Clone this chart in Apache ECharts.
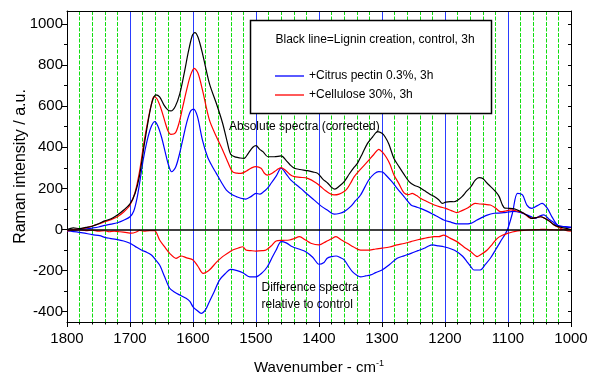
<!DOCTYPE html>
<html>
<head>
<meta charset="utf-8">
<script src="https://cdn.jsdelivr.net/npm/echarts@6/dist/echarts.min.js"></script>
<style>
html,body{margin:0;padding:0;background:#fff;}
#c{width:589px;height:374px;}
</style>
</head>
<body>
<div id="c"></div>
<script>
// Wavenumber (cm-1) / intensity pairs
const controlAbs = [[1800,0],[1790,8],[1780,4],[1770,10],[1760,16],[1750,28],[1740,42],[1730,52],[1720,70],[1710,95],[1700,125],[1692,175],[1685,260],[1678,400],[1671,530],[1665,620],[1659,655],[1653,645],[1646,605],[1640,582],[1635,577],[1628,600],[1621,660],[1614,760],[1607,870],[1601,945],[1597,958],[1592,935],[1585,857],[1574,711],[1563,614],[1553,517],[1546,430],[1540,365],[1532,352],[1525,348],[1519,346],[1512,372],[1505,400],[1500,408],[1494,390],[1489,379],[1481,354],[1471,354],[1460,358],[1452,335],[1446,315],[1439,298],[1430,292],[1418,286],[1410,280],[1402,273],[1394,245],[1386,225],[1380,205],[1375,196],[1368,210],[1360,233],[1352,270],[1345,300],[1339,322],[1331,370],[1323,419],[1315,450],[1307,476],[1300,468],[1295,450],[1289,415],[1281,345],[1273,306],[1265,268],[1257,233],[1249,215],[1241,206],[1232,188],[1224,172],[1217,160],[1210,145],[1204,127],[1199,133],[1192,136],[1186,135],[1180,142],[1173,160],[1166,185],[1159,208],[1152,240],[1146,252],[1140,248],[1133,225],[1128,210],[1120,185],[1114,160],[1109,120],[1105,104],[1098,103],[1090,100],[1083,92],[1075,79],[1068,65],[1062,54],[1055,58],[1048,62],[1042,55],[1035,42],[1028,25],[1020,14],[1012,8],[1006,5],[1000,-2]];
const pectinAbs = [[1800,-3],[1790,-2],[1780,0],[1770,3],[1760,7],[1750,12],[1740,20],[1730,26],[1720,33],[1710,45],[1700,62],[1694,90],[1689,150],[1684,240],[1679,340],[1673,430],[1667,495],[1661,525],[1656,505],[1650,450],[1644,375],[1639,315],[1634,281],[1628,300],[1622,360],[1616,440],[1610,520],[1604,575],[1599,586],[1593,550],[1585,435],[1577,354],[1570,310],[1563,273],[1555,230],[1547,192],[1537,168],[1531,160],[1524,152],[1516,148],[1508,160],[1500,176],[1494,172],[1489,181],[1482,200],[1476,225],[1468,260],[1460,298],[1452,270],[1445,241],[1437,220],[1429,200],[1418,170],[1408,144],[1397,115],[1387,95],[1376,75],[1368,78],[1360,87],[1350,111],[1342,140],[1334,168],[1321,241],[1312,272],[1305,282],[1299,280],[1294,265],[1285,235],[1276,200],[1265,160],[1254,119],[1246,110],[1239,103],[1228,88],[1217,71],[1210,60],[1202,46],[1190,35],[1181,27],[1170,27],[1159,30],[1150,45],[1144,54],[1133,70],[1122,79],[1115,80],[1107,82],[1100,85],[1092,88],[1086,87],[1078,80],[1070,71],[1062,60],[1057,54],[1050,65],[1043,71],[1035,50],[1028,35],[1022,22],[1015,15],[1008,12],[1000,10]];
const celluloseAbs = [[1800,-5],[1790,0],[1780,3],[1770,8],[1760,17],[1750,27],[1740,38],[1730,48],[1720,62],[1710,85],[1700,119],[1692,180],[1685,280],[1678,420],[1671,540],[1666,610],[1662,646],[1657,635],[1651,590],[1645,530],[1640,482],[1635,463],[1628,470],[1622,520],[1616,600],[1610,680],[1604,750],[1598,784],[1592,760],[1585,679],[1574,533],[1563,452],[1553,387],[1545,330],[1537,280],[1530,274],[1524,273],[1515,285],[1507,300],[1500,306],[1492,298],[1487,275],[1482,265],[1475,272],[1467,290],[1460,301],[1452,285],[1445,265],[1439,257],[1430,254],[1418,249],[1405,228],[1397,208],[1390,190],[1383,175],[1376,168],[1368,172],[1360,185],[1355,200],[1350,225],[1344,257],[1335,290],[1323,330],[1313,365],[1305,390],[1299,375],[1293,350],[1287,315],[1281,265],[1273,222],[1265,178],[1258,170],[1252,176],[1245,165],[1239,152],[1228,135],[1217,119],[1208,110],[1199,103],[1190,92],[1181,82],[1173,92],[1165,103],[1158,118],[1152,127],[1144,124],[1136,122],[1128,119],[1120,105],[1112,87],[1104,90],[1096,95],[1086,90],[1075,79],[1064,54],[1056,58],[1048,62],[1040,52],[1033,38],[1025,18],[1017,6],[1008,-4],[1000,-8]];
const pectinDiff = [[1800,-7],[1790,-10],[1775,-16],[1760,-25],[1748,-30],[1740,-38],[1732,-43],[1722,-48],[1710,-56],[1701,-66],[1692,-82],[1682,-100],[1674,-110],[1666,-124],[1660,-145],[1653,-173],[1645,-230],[1637,-286],[1629,-305],[1621,-319],[1611,-335],[1605,-350],[1600,-376],[1593,-395],[1587,-408],[1580,-390],[1574,-351],[1566,-300],[1558,-246],[1549,-215],[1540,-194],[1530,-200],[1521,-210],[1510,-230],[1500,-230],[1490,-210],[1482,-181],[1475,-140],[1468,-100],[1460,-59],[1452,-65],[1442,-84],[1432,-95],[1421,-108],[1410,-135],[1400,-169],[1392,-160],[1387,-140],[1380,-132],[1373,-129],[1366,-137],[1360,-148],[1354,-175],[1347,-205],[1340,-222],[1334,-230],[1326,-226],[1318,-221],[1310,-210],[1300,-197],[1288,-170],[1276,-140],[1265,-128],[1254,-116],[1243,-103],[1233,-91],[1226,-80],[1220,-75],[1210,-80],[1202,-84],[1190,-95],[1181,-108],[1172,-130],[1165,-157],[1158,-185],[1154,-197],[1144,-197],[1136,-170],[1128,-140],[1120,-100],[1112,-59],[1104,-20],[1100,6],[1093,79],[1085,176],[1077,168],[1070,119],[1062,103],[1054,115],[1046,127],[1038,105],[1030,60],[1020,18],[1009,14],[1000,11]];
const celluloseDiff = [[1800,-7],[1790,-3],[1780,-2],[1770,-5],[1760,-3],[1750,-8],[1740,-6],[1733,-11],[1725,-8],[1716,-11],[1705,-15],[1698,-18],[1690,-12],[1685,-4],[1678,-8],[1669,-5],[1661,-5],[1653,-51],[1645,-85],[1637,-116],[1627,-140],[1619,-129],[1610,-138],[1600,-148],[1592,-180],[1584,-213],[1574,-197],[1563,-160],[1553,-132],[1545,-115],[1537,-100],[1528,-90],[1521,-84],[1516,-100],[1508,-103],[1500,-105],[1490,-103],[1484,-100],[1476,-80],[1468,-56],[1458,-53],[1447,-51],[1440,-45],[1431,-35],[1422,-50],[1413,-67],[1400,-75],[1389,-59],[1380,-45],[1373,-35],[1365,-50],[1355,-67],[1345,-85],[1334,-100],[1320,-100],[1310,-95],[1300,-91],[1288,-85],[1276,-75],[1265,-68],[1254,-59],[1243,-50],[1233,-43],[1225,-38],[1217,-35],[1210,-35],[1202,-27],[1192,-42],[1181,-59],[1170,-85],[1159,-108],[1149,-132],[1141,-118],[1133,-100],[1125,-72],[1117,-43],[1109,-28],[1101,-19],[1093,-12],[1085,-7],[1075,-4],[1064,-2],[1050,0],[1043,1],[1030,-1],[1022,-2],[1010,0],[1000,1]];

const yMajorTicks = [-400,-200,0,200,400,600,800,1000];
const yMinorTicks = [-300,-100,100,300,500,700,900];
const yRightTicks = [-400,-300,-200,-100,0,100,200,300,400,500,600,700,800,900,1000];

const FONT = '"Liberation Sans", Arial, sans-serif';
const chart = echarts.init(document.getElementById('c'), null, {renderer:'canvas'});

function lineSeries(name, data, color, extra){
  return Object.assign({
    name: name, type:'line', data: data, symbol:'none', smooth:0.3,
    lineStyle:{color:color, width:1.2}, itemStyle:{color:color},
    xAxisIndex:0, yAxisIndex:0, animation:false, z:3
  }, extra||{});
}
const plain = v => String(v);

chart.setOption({
  backgroundColor:'#fff',
  animation:false,
  grid:{left:67, right:18, top:11, bottom:52, containLabel:false, outerBoundsMode:'none'},
  textStyle:{fontFamily:FONT},
  xAxis:[{
    type:'value', min:1000, max:1800, interval:100, inverse:true, position:'bottom',
    axisLine:{show:true, onZero:false, lineStyle:{color:'#000', width:1}},
    axisTick:{show:true, length:5, lineStyle:{color:'#000'}},
    minorTick:{show:true, splitNumber:5, length:2.5, lineStyle:{color:'#000'}},
    axisLabel:{fontSize:15, color:'#000', margin:9, fontFamily:FONT, formatter:plain},
    splitLine:{show:true, showMinLine:false, showMaxLine:false, lineStyle:{color:'#2a3cff', width:1}},
    minorSplitLine:{show:true, lineStyle:{color:'#11dd11', width:1, type:[4,1.5]}},
    name:'Wavenumber - cm{sup|-1}', nameLocation:'middle', nameGap:37, nameMoveOverlap:false,
    nameTextStyle:{fontSize:15, color:'#000', fontFamily:FONT,
      rich:{sup:{fontSize:9, verticalAlign:'top', padding:[0,0,9,0], color:'#000', fontFamily:FONT}}}
  },{
    type:'value', min:1000, max:1800, inverse:true, position:'top',
    axisLine:{show:true, onZero:false, lineStyle:{color:'#000', width:1}},
    axisTick:{show:false}, axisLabel:{show:false}, splitLine:{show:false}, minorSplitLine:{show:false}
  }],
  yAxis:[{
    type:'value', min:-450, max:1063, position:'left',
    axisLine:{show:true, onZero:false, lineStyle:{color:'#000', width:1}},
    axisTick:{show:true, length:5, customValues:yMajorTicks, lineStyle:{color:'#000'}},
    axisLabel:{fontSize:15, color:'#000', margin:4, customValues:yMajorTicks, fontFamily:FONT, formatter:plain},
    splitLine:{show:false},
    name:'Raman intensity / a.u.', nameLocation:'middle', nameGap:38, nameRotate:90, nameMoveOverlap:false,
    nameTextStyle:{fontSize:16, color:'#000', fontFamily:FONT}
  },{
    type:'value', min:-450, max:1063, position:'right',
    axisLine:{show:true, onZero:false, lineStyle:{color:'#000', width:1}},
    axisTick:{show:true, inside:true, length:3, customValues:yRightTicks, lineStyle:{color:'#000'}},
    axisLabel:{show:false}, splitLine:{show:false}
  },{
    type:'value', min:-450, max:1063, position:'left',
    axisLine:{show:false, onZero:false},
    axisTick:{show:true, length:3, customValues:yMinorTicks, lineStyle:{color:'#000'}},
    axisLabel:{show:false}, splitLine:{show:false}
  }],
  legend:{
    show:true, orient:'vertical', left:275, top:70, padding:0, itemWidth:29, itemHeight:1.3, itemGap:7,
    icon:'rect',
    data:['+Citrus pectin 0.3%, 3h','+Cellulose 30%, 3h'],
    textStyle:{fontSize:12, color:'#000', fontFamily:FONT},
    z:20
  },
  graphic:[
    {type:'rect', z:10, shape:{x:250.5, y:20.5, width:241, height:93}, style:{fill:'#fff', stroke:'#000', lineWidth:1.5}},
    {type:'text', z:11, x:275.5, y:40, style:{text:'Black line=Lignin creation, control, 3h', font:'12px '+FONT, fill:'#000', verticalAlign:'middle'}},
    {type:'text', z:11, x:229, y:127, style:{text:'Absolute spectra (corrected)', font:'12px '+FONT, fill:'#000', verticalAlign:'middle'}},
    {type:'text', z:11, x:261.5, y:287.5, style:{text:'Difference spectra', font:'12px '+FONT, fill:'#000', verticalAlign:'middle'}},
    {type:'text', z:11, x:261.5, y:304.5, style:{text:'relative to control', font:'12px '+FONT, fill:'#000', verticalAlign:'middle'}}
  ],
  series:[
    lineSeries('Pectin difference', pectinDiff, '#0000ff'),
    lineSeries('Cellulose difference', celluloseDiff, '#ff0000'),
    lineSeries('+Citrus pectin 0.3%, 3h', pectinAbs, '#0000ff'),
    lineSeries('+Cellulose 30%, 3h', celluloseAbs, '#ff0000'),
    lineSeries('Black line=Lignin creation, control, 3h', controlAbs, '#000000', {
      markLine:{silent:true, symbol:['none','none'], label:{show:false},
        lineStyle:{color:'#000', width:1.5, type:'solid'}, data:[{yAxis:0}], animation:false}
    })
  ]
});
</script>
</body>
</html>
